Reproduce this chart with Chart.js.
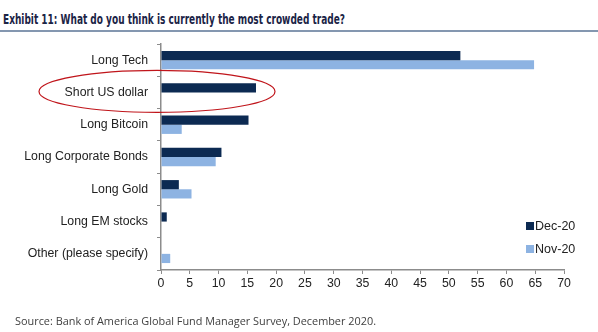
<!DOCTYPE html>
<html>
<head>
<meta charset="utf-8">
<script src="https://cdn.jsdelivr.net/npm/chart.js@4"></script>
<style>
  html, body { margin: 0; padding: 0; background: #fff; }
  #wrap { position: relative; width: 598px; height: 332px; overflow: hidden; }
  #title {
    position: absolute; left: 3px; top: 11px; white-space: nowrap;
    font: bold 14px "DejaVu Sans Condensed", "Liberation Sans", Arial, sans-serif;
    color: #1b2446; transform-origin: 0 0;
  }
  #rule { position: absolute; left: 0; top: 30px; width: 598px; height: 2px; background: #8497b0; }
  #source {
    position: absolute; left: 15px; top: 313px; white-space: nowrap;
    font: 11px "Open Sans", "Noto Sans", sans-serif; color: #404040; transform-origin: 0 0;
  }
  canvas { position: absolute; left: 0; top: 0; }
</style>
</head>
<body>
<div id="wrap">
  <div id="title">Exhibit 11: What do you think is currently the most crowded trade?</div>
  <div id="rule"></div>
  <canvas id="chart" width="598" height="332"></canvas>
  <div id="source">Source: Bank of America Global Fund Manager Survey, December 2020.</div>
</div>
<script>
(function () {
  'use strict';

  // --- Data ---
  var categories = [
    'Long Tech',
    'Short US dollar',
    'Long Bitcoin',
    'Long Corporate Bonds',
    'Long Gold',
    'Long EM stocks',
    'Other (please specify)'
  ];
  var seriesNames = ['Dec-20', 'Nov-20'];
  var dec20 = [52, 16.5, 15.2, 10.5, 3.1, 1.0, 0];
  var nov20 = [64.8, 0, 3.6, 9.5, 5.3, 0, 1.6];
  var xTicks = [0, 5, 10, 15, 20, 25, 30, 35, 40, 45, 50, 55, 60, 65, 70];

  var colors = {
    dec: '#0c2a52',
    nov: '#8db3e2',
    axis: '#8c8c8c',
    text: '#222222',
    ring: '#c0151b'
  };
  var tickFont = { family: 'Arial, "Liberation Sans", sans-serif', size: 12.3 };

  // squeeze the header/footer text to the widths in the original
  function fitWidth(id, w) {
    var el = document.getElementById(id);
    var s = w / el.getBoundingClientRect().width;
    el.style.transform = 'scaleX(' + s + ')';
  }
  fitWidth('title', 342);
  fitWidth('source', 361);

  // Legend drawn inside the plot, bottom right
  var cornerLegend = {
    id: 'cornerLegend',
    afterDraw: function (chart) {
      var cx = chart.ctx;
      var area = chart.chartArea;
      cx.save();
      cx.font = '12.5px ' + tickFont.family;
      cx.textBaseline = 'middle';
      chart.data.datasets.forEach(function (ds, i) {
        var y = area.bottom - 44 + i * 23;
        var x = area.right - 38;
        cx.fillStyle = ds.backgroundColor;
        cx.fillRect(x, y - 4, 8, 8);
        cx.fillStyle = colors.text;
        cx.fillText(ds.label, x + 9, y + 1);
      });
      cx.restore();
    }
  };

  // Red ring around the "Short US dollar" row
  var ringNote = {
    id: 'ringNote',
    afterDraw: function (chart) {
      var cx = chart.ctx;
      var yScale = chart.scales.y;
      var xScale = chart.scales.x;
      var cy = yScale.getPixelForValue(1) - 1;
      var cxm = xScale.left - 4;
      cx.save();
      cx.strokeStyle = colors.ring;
      cx.lineWidth = 1.2;
      cx.beginPath();
      cx.ellipse(cxm, cy, 118, 21, 0, 0, Math.PI * 2);
      cx.stroke();
      cx.restore();
    }
  };

  new Chart(document.getElementById('chart').getContext('2d'), {
    type: 'bar',
    data: {
      labels: categories,
      datasets: [
        { label: seriesNames[0], data: dec20, backgroundColor: colors.dec, borderWidth: 0,
          barPercentage: 1, categoryPercentage: 0.57 },
        { label: seriesNames[1], data: nov20, backgroundColor: colors.nov, borderWidth: 0,
          barPercentage: 1, categoryPercentage: 0.57 }
      ]
    },
    options: {
      indexAxis: 'y',
      responsive: false,
      animation: false,
      layout: { padding: { left: 0, right: 34, top: 44, bottom: 42 } },
      plugins: {
        legend: { display: false },
        tooltip: { enabled: false }
      },
      scales: {
        x: {
          min: 0,
          max: 70,
          afterBuildTicks: function (scale) {
            scale.ticks = xTicks.map(function (v) { return { value: v }; });
          },
          afterFit: function (scale) { scale.height = 20; },
          ticks: { color: colors.text, font: tickFont, padding: 2, maxRotation: 0 },
          grid: { drawOnChartArea: false, color: colors.axis, tickLength: 4 },
          border: { color: colors.axis, width: 1.5 }
        },
        y: {
          afterFit: function (scale) { scale.width = 161; },
          ticks: { color: colors.text, font: tickFont, padding: 9 },
          grid: { drawOnChartArea: false, offset: true, color: colors.axis, tickLength: 4 },
          border: { color: colors.axis, width: 1.5 }
        }
      }
    },
    plugins: [cornerLegend, ringNote]
  });
})();
</script>
</body>
</html>
